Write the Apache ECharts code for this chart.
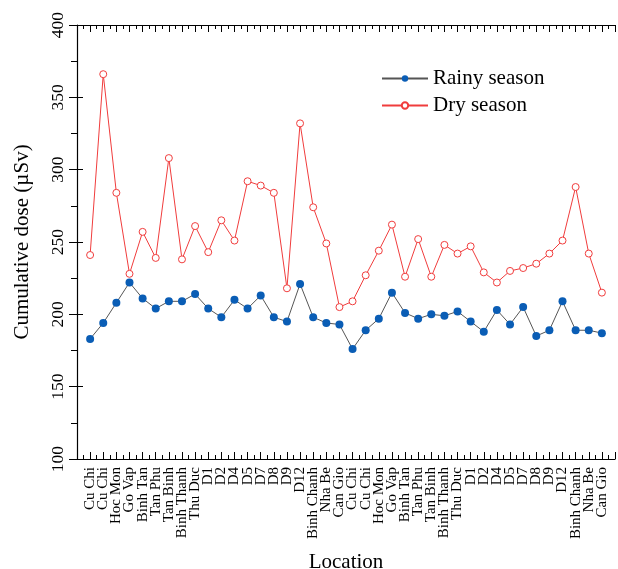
<!DOCTYPE html>
<html>
<head>
<meta charset="utf-8">
<script src="https://cdn.jsdelivr.net/npm/echarts@6/dist/echarts.min.js"></script>
<style>
  html, body { margin: 0; padding: 0; background: #fff; }
  #chart { width: 618px; height: 569px; }
</style>
</head>
<body>
<div id="chart"></div>
<script>
const districts = ['Cu Chi', 'Cu Chi', 'Hoc Mon', 'Go Vap', 'Binh Tan', 'Tan Phu', 'Tan Binh', 'Binh Thanh', 'Thu Duc',
  'D1', 'D2', 'D4', 'D5', 'D7', 'D8', 'D9', 'D12', 'Binh Chanh', 'Nha Be', 'Can Gio']
const locations = districts.concat(districts)

const rainySeason = [183, 194, 208, 222, 211, 204, 209, 209, 214, 204, 198, 210, 204, 213, 198, 195, 221, 198, 194, 193,
  176, 189, 197, 215, 201, 197, 200, 199, 202, 195, 188, 203, 193, 205, 185, 189, 209, 189, 189, 187]
const drySeason = [241, 366, 284, 228, 257, 239, 308, 238, 261, 243, 265, 251, 292, 289, 284, 218, 332, 274, 249, 205,
  209, 227, 244, 262, 226, 252, 226, 248, 242, 247, 229, 222, 230, 232, 235, 242, 251, 288, 242, 215]

const yTicks = { min: 100, max: 400, step: 50 }

const font = 'Liberation Serif'
const chart = echarts.init(document.getElementById('chart'))

const toPoints = (vals) => vals.map((v, i) => [i + 1, v])

const xCommon = {
  type: 'value',
  min: 0,
  max: locations.length + 1,
  interval: 1,
  splitLine: { show: false },
  axisLine: { show: true, onZero: false, lineStyle: { color: '#000', width: 1.2 } },
  axisTick: { show: true, inside: true, length: 7, lineStyle: { color: '#000' } },
  minorTick: { show: true, splitNumber: 2, length: 4, lineStyle: { color: '#000' } }
}

const yCommon = {
  type: 'value',
  min: yTicks.min,
  max: yTicks.max,
  interval: yTicks.step,
  splitLine: { show: false }
}

chart.setOption({
  animation: false,
  textStyle: { fontFamily: font },
  grid: { left: 77, right: 3, top: 25, bottom: 110, containLabel: false, outerBoundsMode: 'none' },
  legend: {
    orient: 'vertical',
    left: 376,
    top: 63,
    itemWidth: 46,
    itemHeight: 8,
    itemGap: 6,
    textStyle: { fontFamily: font, fontSize: 21, color: '#000' },
    data: ['Rainy season', 'Dry season']
  },
  xAxis: [
    Object.assign({}, xCommon, {
      position: 'bottom',
      name: 'Location',
      nameLocation: 'middle',
      nameGap: 93,
      nameTextStyle: { fontFamily: font, fontSize: 21, color: '#000' },
      axisLabel: {
        rotate: 90,
        margin: 8,
        fontFamily: font,
        fontSize: 15,
        color: '#000',
        formatter: (v) => locations[v - 1] || ''
      }
    }),
    Object.assign({}, xCommon, {
      position: 'top',
      axisLabel: { show: false }
    })
  ],
  yAxis: [
    Object.assign({}, yCommon, {
      name: 'Cumulative dose (µSv)',
      nameLocation: 'middle',
      nameGap: 44,
      nameTextStyle: { fontFamily: font, fontSize: 21, color: '#000' },
      axisLine: { show: true, lineStyle: { color: '#000', width: 1.2 } },
      axisTick: { show: true, inside: false, length: 8, lineStyle: { color: '#000' } },
      minorTick: { show: true, splitNumber: 2, length: 6, lineStyle: { color: '#000' } },
      axisLabel: { rotate: 90, margin: 10, fontFamily: font, fontSize: 17.5, color: '#000' }
    }),
    Object.assign({}, yCommon, {
      position: 'left',
      axisLine: { show: false },
      axisTick: { show: true, inside: true, length: 6, lineStyle: { color: '#000' } },
      axisLabel: { show: false }
    })
  ],
  series: [
    {
      name: 'Rainy season',
      type: 'line',
      data: toPoints(rainySeason),
      symbol: 'circle',
      symbolSize: 8,
      lineStyle: { color: '#555', width: 1 },
      itemStyle: { color: '#0a5db5', borderWidth: 0 },
      z: 3
    },
    {
      name: 'Dry season',
      type: 'line',
      data: toPoints(drySeason),
      symbol: 'circle',
      symbolSize: 7,
      lineStyle: { color: '#f03c3c', width: 1 },
      itemStyle: { color: '#fff', borderColor: '#f03c3c', borderWidth: 1 },
      z: 2
    }
  ]
})
</script>
</body>
</html>
